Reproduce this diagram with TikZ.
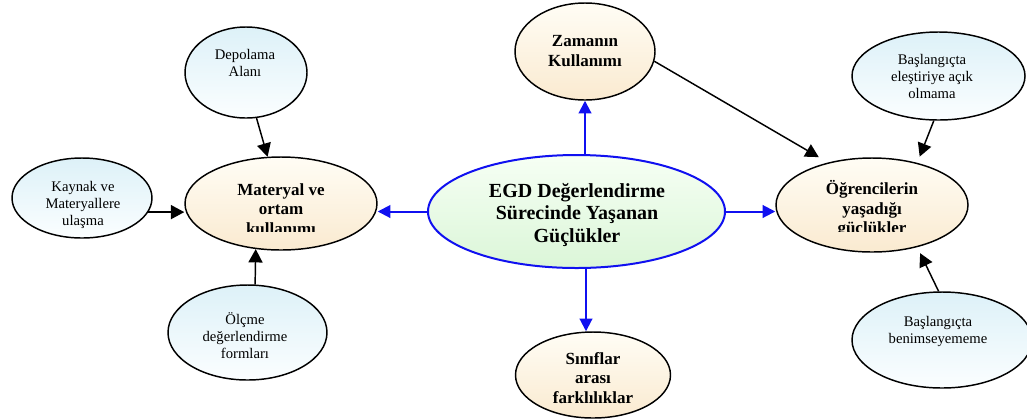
\documentclass[tikz,border=0pt]{standalone}
\usepackage{fontspec}
\setmainfont{Liberation Serif}
\usetikzlibrary{shapes.geometric,arrows.meta,calc}

\definecolor{creamtop}{HTML}{FFFDF5}
\definecolor{creambot}{HTML}{FAEAD0}
\definecolor{leaftop}{HTML}{DDF1F8}
\definecolor{leafbot}{HTML}{FBFEFF}
\definecolor{coretop}{HTML}{F6FFF4}
\definecolor{corebot}{HTML}{DBF6D8}
\definecolor{coreblue}{HTML}{1010F0}

\begin{document}
\begin{tikzpicture}[x=0.75pt,y=-0.75pt,
  oval/.style={ellipse, draw=black, line width=1.1pt, inner sep=0pt},
  leaf/.style={oval, top color=leaftop, bottom color=leafbot},
  theme/.style={oval, top color=creamtop, bottom color=creambot},
  core/.style={ellipse, draw=coreblue, line width=1.5pt, inner sep=0pt,
               top color=coretop, bottom color=corebot},
  smalltxt/.style={align=center, inner sep=0pt,
                   font=\fontsize{11pt}{12.75pt}\selectfont},
  boldtxt/.style={align=center, inner sep=0pt,
                  font=\bfseries\fontsize{12.75pt}{14.75pt}\selectfont},
  coretxt/.style={align=center, inner sep=0pt,
                  font=\bfseries\fontsize{15pt}{16.75pt}\selectfont},
  link/.style={draw=black, line width=1.1pt,
               -{Triangle[length=10pt,width=10.5pt]}},
  bluelink/.style={draw=coreblue, line width=1.5pt, color=coreblue,
                   -{Triangle[length=9.5pt,width=9.5pt]}}
]
\useasboundingbox (0,0) rectangle (1027,419);

% central topic
\node[core, minimum width=222.75pt, minimum height=84.75pt] (ctr) at (576.5,211.5) {};
\node[coretxt] (ctrT) at (577,215) {EGD Değerlendirme\\Sürecinde Yaşanan\\Güçlükler};

% main themes
\node[theme, minimum width=105pt, minimum height=72.75pt] (zam) at (585,51.5) {};
\node[boldtxt] (zamT) at (585,51) {Zamanın\\Kullanımı};

\node[theme, minimum width=116.25pt, minimum height=64.5pt] (sin) at (593,375) {};
\node[boldtxt] (sinT) at (593,378) {Sınıflar\\arası\\farklılıklar};

\node[theme, minimum width=144pt, minimum height=69.75pt] (mat) at (281,203.5) {};
\begin{scope}
  \clip (180,150) rectangle (380,231.5);
  \node[boldtxt] (matT) at (281,209) {Materyal ve\\ortam\\kullanımı};
\end{scope}

\node[theme, minimum width=144pt, minimum height=70.5pt] (ogr) at (872,205) {};
\begin{scope}
  \clip (770,150) rectangle (970,231);
  \node[boldtxt] (ogrT) at (872,209) {Öğrencilerin\\yaşadığı\\güçlükler};
\end{scope}

% sub items
\node[leaf, minimum width=105pt, minimum height=60pt] (kay) at (82,198) {};
\node[smalltxt] (kayT) at (83,205) {Kaynak ve\\Materyallere\\ulaşma};

\node[leaf, minimum width=91.5pt, minimum height=68.25pt] (dep) at (246,72.5) {};
\node[smalltxt] (depT) at (245,63) {Depolama\\Alanı};

\node[leaf, minimum width=119.25pt, minimum height=71.25pt] (olc) at (247.5,332.5) {};
\node[smalltxt] (olcT) at (245,336) {Ölçme\\değerlendirme\\formları};

\node[leaf, minimum width=129.75pt, minimum height=66pt] (ele) at (938.5,76) {};
\node[smalltxt] (eleT) at (932,76) {Başlangıçta\\eleştiriye açık\\olmama};

\node[leaf, minimum width=135pt, minimum height=72pt] (ben) at (942,340) {};
\node[smalltxt] (benT) at (938,331) {Başlangıçta\\benimseyememe};

% blue connectors from the central topic
\coordinate (up) at ($(ctr.north)+(8.5,0)$);
\coordinate (dn) at ($(ctr.south)+(9.5,0)$);
\draw[bluelink] (up) -- (up |- zam.south);
\draw[bluelink] (dn) -- (dn |- sin.north);
\draw[bluelink] (ctr.west) -- (ctr.west -| mat.east);
\draw[bluelink] (ctr.east) -- (ctr.east -| ogr.west);

% black connectors into the themes
\draw[link] (kay.-12) -- (kay.-12 -| mat.west);
\draw[link] (dep.-77) -- (mat.106);
\draw[link] (olc.81) -- (mat.-119);
\draw[link, shorten >=8pt] (zam.-8) -- (ogr.136);
\draw[link, shorten >=5pt] (ele.-96) -- (ogr.43);
\draw[link, shorten >=5pt] (ben.94) -- (ogr.-43);
\end{tikzpicture}
\end{document}
